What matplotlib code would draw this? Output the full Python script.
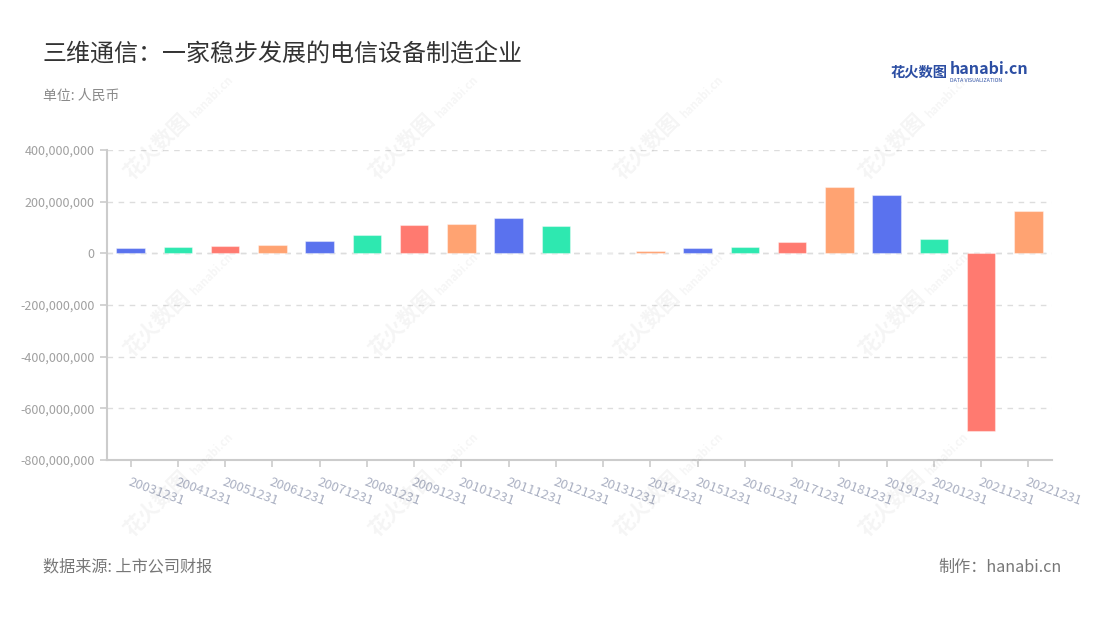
import matplotlib
matplotlib.use("Agg")
import matplotlib.pyplot as plt
from matplotlib.ticker import FuncFormatter, MultipleLocator

plt.rcParams['font.family'] = ['Noto Sans CJK SC', 'DejaVu Sans']

# ---- data ----
categories = ["20031231", "20041231", "20051231", "20061231", "20071231",
              "20081231", "20091231", "20101231", "20111231", "20121231",
              "20131231", "20141231", "20151231", "20161231", "20171231",
              "20181231", "20191231", "20201231", "20211231", "20221231"]
values = [19e6, 26e6, 30e6, 32e6, 47e6,
          70e6, 109e6, 114e6, 136e6, 107e6,
          0, 8e6, 22e6, 26e6, 45e6,
          255e6, 224e6, 54e6, -687e6, 163e6]
palette = ["#5a72ee", "#2ee8b0", "#ff7a70", "#ffa372"]

title = "三维通信：一家稳步发展的电信设备制造企业"
subtitle = "单位: 人民币"
source = "数据来源: 上市公司财报"
maker = "制作：hanabi.cn"

W, H = 1100, 620
fig = plt.figure(figsize=(W / 100, H / 100), dpi=100)
fig.patch.set_facecolor("white")

# watermarks
wm_cols = [135, 380, 625, 870]
wm_rows = [183, 360, 540]
for yy in wm_rows:
    for xx in wm_cols:
        fig.text(xx / W, 1 - yy / H, "花火数图", rotation=45, rotation_mode='anchor',
                 ha='left', va='bottom', fontsize=15, fontweight='bold',
                 color='#000000', alpha=0.045)
        fig.text((xx + 62) / W, 1 - (yy - 62) / H, "hanabi.cn", rotation=45,
                 rotation_mode='anchor', ha='left', va='bottom', fontsize=8,
                 fontweight='bold', color='#000000', alpha=0.04)

ax = fig.add_axes([107 / W, 1 - 460 / H, (1052 - 107) / W, (460 - 150) / H])
ax.set_facecolor('none')

x = list(range(len(categories)))
colors = [palette[i % len(palette)] for i in range(len(categories))]
ax.bar(x, values, width=0.6, color=colors, edgecolor=(1, 1, 1, 0.4),
       linewidth=0.8, zorder=3)

ax.set_xlim(-0.5, len(categories) - 0.5)
ax.set_ylim(-800e6, 400e6)
ax.yaxis.set_major_locator(MultipleLocator(200e6))
ax.yaxis.set_major_formatter(FuncFormatter(lambda v, p: f"{int(round(v)):,}"))
ax.grid(axis='y', color='#dddddd', linestyle=(0, (4, 4)), linewidth=1, zorder=0)
ax.axhline(0, color='#dddddd', linestyle=(0, (4, 4)), linewidth=1, zorder=1)

for s in ['top', 'right']:
    ax.spines[s].set_visible(False)
for s in ['left', 'bottom']:
    ax.spines[s].set_color('#cccccc')
    ax.spines[s].set_linewidth(1.5)

ax.tick_params(axis='y', colors='#cccccc', labelcolor='#a0a0a0', labelsize=9,
               length=5, width=1.2, pad=4)
ax.set_xticks(x)
ax.set_xticklabels(categories, rotation=-20, ha='left', va='top',
                   rotation_mode='anchor', fontsize=9.5, color='#aab0c2')
ax.tick_params(axis='x', colors='#cccccc', labelcolor='#aab0c2', length=5,
               width=1.2, pad=6)

# titles
fig.text(43 / W, 1 - 55 / H, title, fontsize=17.3, color='#333333', va='center', ha='left')
fig.text(43 / W, 1 - 96 / H, subtitle, fontsize=10, color='#8a8a8a', va='center', ha='left')

# logo
fig.text(891 / W, 1 - 73 / H, "花火数图", fontsize=10.3, fontweight='bold',
         color='#2c4ea3', va='center', ha='left')
fig.text(950 / W, 1 - 69 / H, "hanabi.cn", fontsize=11.5, fontweight='bold',
         color='#2c4ea3', va='center', ha='left')
fig.text(950 / W, 1 - 81 / H, "DATA VISUALIZATION", fontsize=3.8,
         color='#2c4ea3', va='center', ha='left')

# footer
fig.text(43 / W, 1 - 567 / H, source, fontsize=11.6, color='#777777', va='center', ha='left')
fig.text(1062 / W, 1 - 567 / H, maker, fontsize=11.6, color='#777777', va='center', ha='right')

fig.savefig("out.png", dpi=100, facecolor='white')
